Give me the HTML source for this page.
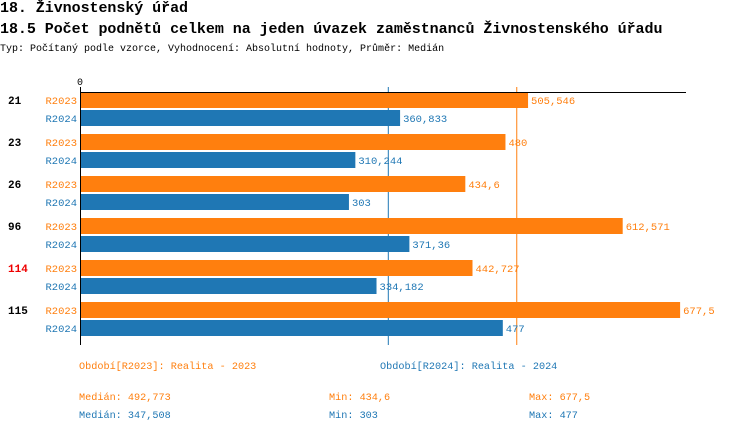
<!DOCTYPE html>
<html><head><meta charset="utf-8"><style>
body{margin:0;background:#fff;width:750px;height:434px;overflow:hidden;font-family:"Liberation Mono",monospace}
.t{position:absolute;white-space:nowrap}
</style></head><body>
<div class="t" style="left:0;top:0px;font-size:15px;font-weight:bold;letter-spacing:-0.05px">18. Živnostenský úřad</div>
<div class="t" style="left:0;top:21px;font-size:15px;font-weight:bold;letter-spacing:-0.05px">18.5 Počet podnětů celkem na jeden úvazek zaměstnanců Živnostenského úřadu</div>
<div class="t" style="left:0;top:44px;font-size:10px">Typ: Počítaný podle vzorce, Vyhodnocení: Absolutní hodnoty, Průměr: Medián</div>
<svg id="c" width="750" height="434" style="position:absolute;left:0;top:0"></svg>
<script>
const categories=["21","23","26","96","114","115"];
const highlight=[false,false,false,false,true,false];
const s2023=[505.546,480,434.6,612.571,442.727,677.5];
const s2024=[360.833,310.244,303,371.36,334.182,477];
const labels2023=["505,546","480","434,6","612,571","442,727","677,5"];
const labels2024=["360,833","310,244","303","371,36","334,182","477"];
const median2023=492.773, median2024=347.508;
const stats2023=["Medián: 492,773","Min: 434,6","Max: 677,5"];
const stats2024=["Medián: 347,508","Min: 303","Max: 477"];
const O="#ff7f0e",B="#1f77b4";
const svg=document.getElementById('c');const NS="http://www.w3.org/2000/svg";
const x=v=>81+v*0.8843;
const gy=i=>92+i*42;
function el(t,a,txt){const e=document.createElementNS(NS,t);for(const k in a)e.setAttribute(k,a[k]);if(txt!==undefined)e.textContent=txt;svg.appendChild(e);return e;}
let e;
e=el('line',{x1:x(median2024),x2:x(median2024),y1:87,y2:345,stroke:B,'stroke-width':1});

e=el('line',{x1:x(median2023),x2:x(median2023),y1:87,y2:345,stroke:O,'stroke-width':1});

categories.forEach((c,i)=>{
 const y=gy(i);
 e=el('text',{x:8,y:y+12,'font-size':11,'font-weight':'bold',fill:highlight[i]?'#e00':'#000','font-family':'Liberation Mono, monospace'},c);
 
 e=el('text',{x:77,y:y+12,'font-size':10.5,fill:O,'text-anchor':'end','font-family':'Liberation Mono, monospace'},'R2023');
 
 e=el('text',{x:77,y:y+30,'font-size':10.5,fill:B,'text-anchor':'end','font-family':'Liberation Mono, monospace'},'R2024');
 
 e=el('rect',{x:x(0),y:y,width:x(s2023[i])-x(0),height:16,fill:O});
 
 e=el('rect',{x:x(0),y:y+18,width:x(s2024[i])-x(0),height:16,fill:B});
 
 e=el('text',{x:x(s2023[i])+3,y:y+12,'font-size':10.5,fill:O,'font-family':'Liberation Mono, monospace'},labels2023[i]);
 
 e=el('text',{x:x(s2024[i])+3,y:y+30,'font-size':10.5,fill:B,'font-family':'Liberation Mono, monospace'},labels2024[i]);
 
});
e=el('line',{x1:80,x2:686,y1:92.5,y2:92.5,stroke:'#000','stroke-width':1});

e=el('line',{x1:80.5,x2:80.5,y1:87,y2:345,stroke:'#000','stroke-width':1});

e=el('text',{x:80,y:85,'font-size':10,'text-anchor':'middle','font-family':'Liberation Mono, monospace'},'0');

e=el('text',{x:79,y:369,'font-size':10.2,fill:O,'font-family':'Liberation Mono, monospace'},'Období[R2023]: Realita - 2023');

e=el('text',{x:380,y:369,'font-size':10.2,fill:B,'font-family':'Liberation Mono, monospace'},'Období[R2024]: Realita - 2024');

const sx=[79,329,529];
stats2023.forEach((s,j)=>{e=el('text',{x:sx[j],y:400,'font-size':10.2,fill:O,'font-family':'Liberation Mono, monospace'},s);
 });
stats2024.forEach((s,j)=>{e=el('text',{x:sx[j],y:418,'font-size':10.2,fill:B,'font-family':'Liberation Mono, monospace'},s);
 });
</script>
</body></html>
